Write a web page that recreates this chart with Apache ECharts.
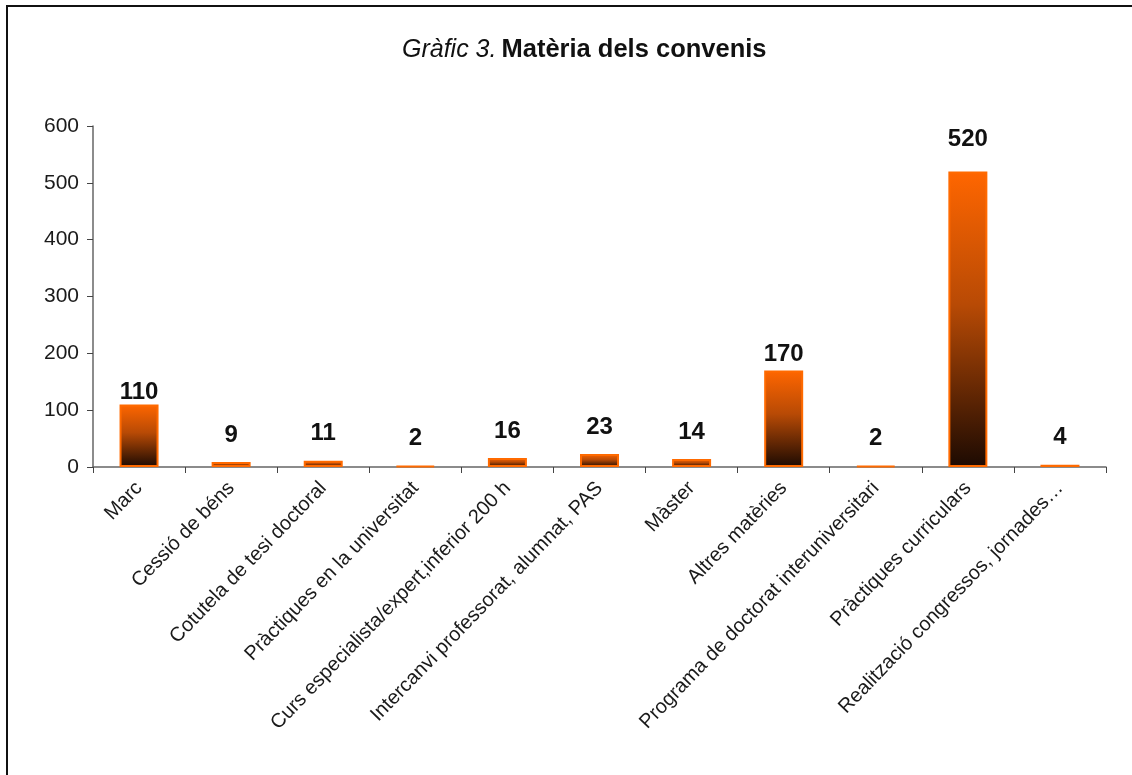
<!DOCTYPE html>
<html>
<head>
<meta charset="utf-8">
<script src="https://cdn.jsdelivr.net/npm/echarts@6/dist/echarts.min.js"></script>
<style>
  html, body { margin: 0; padding: 0; background: #fff; }
  .frame {
    position: absolute;
    left: 6px;
    top: 5px;
    width: 1126px;
    height: 770px;
    border-left: 2px solid #111;
    border-top: 2px solid #111;
  }
  #chart { position: absolute; left: 0; top: 0; width: 1132px; height: 775px; }
</style>
</head>
<body>
<div class="frame"></div>
<div id="chart"></div>
<script>
const categories = [
  'Marc',
  'Cessió de béns',
  'Cotutela de tesi doctoral',
  'Pràctiques en la universitat',
  'Curs especialista/expert,inferior 200 h',
  'Intercanvi professorat, alumnat, PAS',
  'Màster',
  'Altres matèries',
  'Programa de doctorat interuniversitari',
  'Pràctiques curriculars',
  'Realització congressos, jornades…'
]
const values = [110, 9, 11, 2, 16, 23, 14, 170, 2, 520, 4]
const yTicks = [0, 100, 200, 300, 400, 500, 600]

const chart = echarts.init(document.getElementById('chart'))

// label gaps differ a bit in the original, the tall ones sit closer
const labelGap = (i) => {
  if (i === 0) return 0
  if (i === 7) return 4
  if (i === 9) return 20
  return 15
}

chart.setOption({
  animation: false,
  title: {
    text: '{it|Gràfic 3.} {bd|Matèria dels convenis}',
    left: 397,
    top: 32,
    textStyle: {
      rich: {
        it: { fontFamily: 'Liberation Sans', fontStyle: 'italic', fontWeight: 'normal', fontSize: 25, color: '#111' },
        bd: { fontFamily: 'Liberation Sans', fontWeight: 'bold', fontSize: 25.5, color: '#111' }
      }
    }
  },
  grid: {
    left: 93,
    right: 26,
    top: 126,
    bottom: 308
  },
  xAxis: {
    type: 'category',
    data: categories,
    axisLine: { lineStyle: { color: '#666', width: 1.5 } },
    axisTick: { show: true, alignWithLabel: false, length: 6, lineStyle: { color: '#444' } },
    axisLabel: {
      interval: 0,
      rotate: 46,
      margin: 18,
      fontFamily: 'Liberation Sans',
      fontSize: 20,
      color: '#1a1a1a'
    }
  },
  yAxis: {
    type: 'value',
    min: yTicks[0],
    max: yTicks[yTicks.length - 1],
    interval: 100,
    splitLine: { show: false },
    axisLine: { show: true, lineStyle: { color: '#666', width: 1.5 } },
    axisTick: { show: true, length: 6, lineStyle: { color: '#444' } },
    axisLabel: {
      margin: 14,
      fontFamily: 'Liberation Sans',
      fontSize: 21,
      color: '#1a1a1a'
    }
  },
  series: [
    {
      type: 'bar',
      barWidth: 39,
      data: values.map((v, i) => ({
        value: v,
        label: { distance: labelGap(i) }
      })),
      itemStyle: {
        color: new echarts.graphic.LinearGradient(0, 0, 0, 1, [
          { offset: 0, color: '#ff6600' },
          { offset: 0.45, color: '#b84a05' },
          { offset: 1, color: '#1c0a02' }
        ]),
        borderColor: '#ff6a00',
        borderWidth: 2
      },
      label: {
        show: true,
        position: 'top',
        fontFamily: 'Liberation Sans',
        fontWeight: 'bold',
        fontSize: 24,
        color: '#111'
      }
    }
  ]
})
</script>
</body>
</html>
